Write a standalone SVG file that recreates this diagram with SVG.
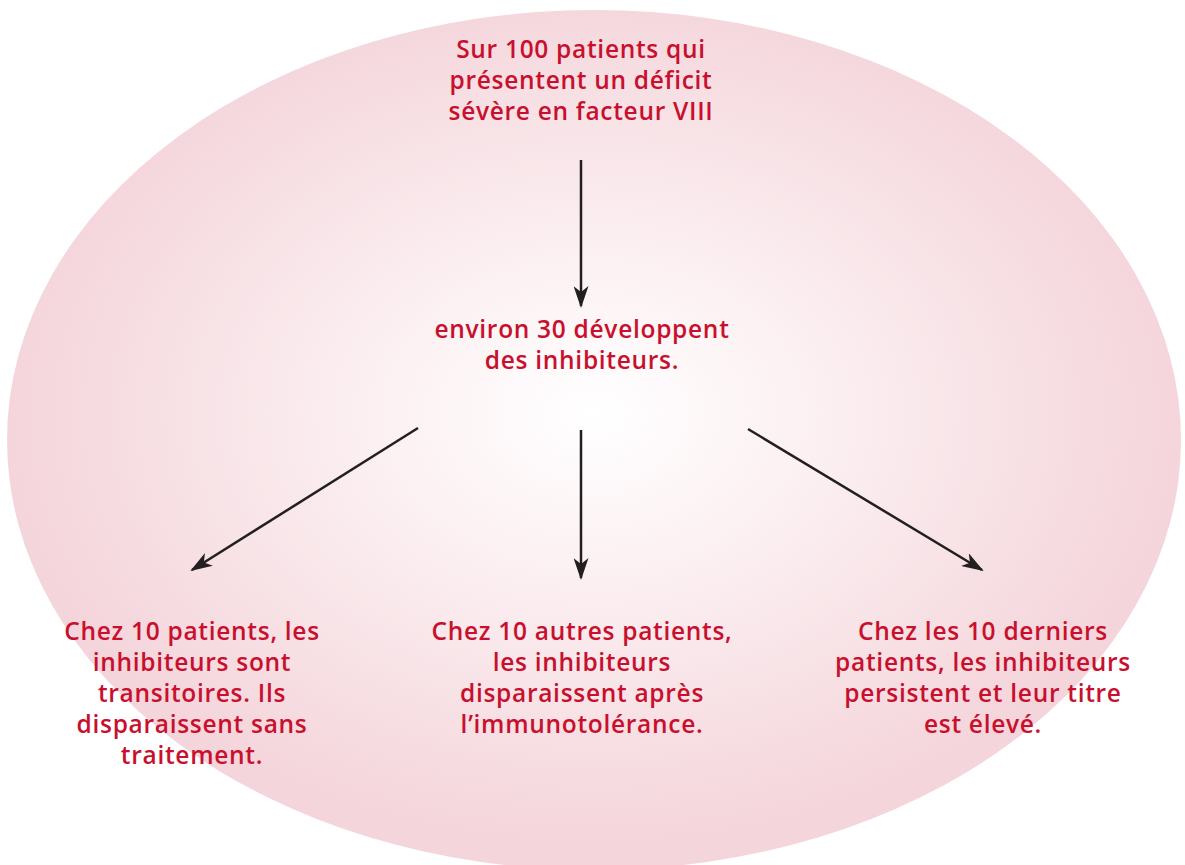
<svg xmlns="http://www.w3.org/2000/svg" width="1185" height="865" viewBox="0 0 1185 865">
<defs>
<radialGradient id="bg" cx="0.5" cy="0.47" r="0.5">
<stop offset="0" stop-color="#ffffff"/>
<stop offset="0.35" stop-color="#fcf1f3"/>
<stop offset="1" stop-color="#f4d5db"/>
</radialGradient>
<marker id="ah" viewBox="0 0 22 15" refX="20" refY="7.5" markerWidth="22" markerHeight="15" markerUnits="userSpaceOnUse" orient="auto">
<path d="M0,0 L22,7.5 L0,15 L6,7.5 Z" fill="#231f20"/>
</marker>
</defs>
<style>
text{font-family:"Open Sans","DejaVu Sans",sans-serif;font-size:24.5px;font-weight:600;letter-spacing:0.7px;fill:#c8102e;text-anchor:middle;}
.c{stroke:#231f20;stroke-width:2.5;fill:none;marker-end:url(#ah);}
</style>
<rect width="1185" height="865" fill="#ffffff"/>
<ellipse cx="594" cy="440" rx="587" ry="430" fill="url(#bg)"/>
<g id="connectors">
<line class="c" x1="581" y1="160" x2="581" y2="306"/>
<line class="c" x1="581" y1="430" x2="581" y2="578"/>
<line class="c" x1="418" y1="428" x2="192" y2="570"/>
<line class="c" x1="748" y1="429" x2="982" y2="570"/>
</g>
<g id="n1"><text><tspan x="581" y="58">Sur 100 patients qui</tspan><tspan x="581" y="89">présentent un déficit</tspan><tspan x="581" y="120">sévère en facteur VIII</tspan></text></g>
<g id="n2"><text><tspan x="582" y="338">environ 30 développent</tspan><tspan x="582" y="369">des inhibiteurs.</tspan></text></g>
<g id="n3"><text><tspan x="192" y="640">Chez 10 patients, les</tspan><tspan x="192" y="671">inhibiteurs sont</tspan><tspan x="192" y="702">transitoires. Ils</tspan><tspan x="192" y="733">disparaissent sans</tspan><tspan x="192" y="764">traitement.</tspan></text></g>
<g id="n4"><text><tspan x="582" y="640">Chez 10 autres patients,</tspan><tspan x="582" y="671">les inhibiteurs</tspan><tspan x="582" y="702">disparaissent après</tspan><tspan x="582" y="733">l’immunotolérance.</tspan></text></g>
<g id="n5"><text><tspan x="983" y="640">Chez les 10 derniers</tspan><tspan x="983" y="671">patients, les inhibiteurs</tspan><tspan x="983" y="702">persistent et leur titre</tspan><tspan x="983" y="733">est élevé.</tspan></text></g>
</svg>
